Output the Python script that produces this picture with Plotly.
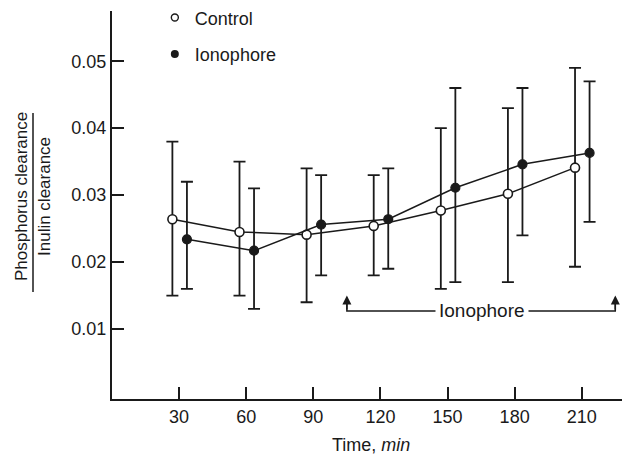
import plotly.graph_objects as go

times = [30, 60, 90, 120, 150, 180, 210]

control_mean = [0.0264, 0.0245, 0.0241, 0.0254, 0.0277, 0.0302, 0.0341]
control_hi = [0.038, 0.035, 0.034, 0.033, 0.040, 0.043, 0.049]
control_lo = [0.015, 0.015, 0.014, 0.018, 0.016, 0.017, 0.0193]

iono_mean = [0.0234, 0.0217, 0.0256, 0.0264, 0.0311, 0.0346, 0.0363]
iono_hi = [0.032, 0.031, 0.033, 0.034, 0.046, 0.046, 0.047]
iono_lo = [0.016, 0.013, 0.018, 0.019, 0.017, 0.024, 0.026]

y_ticks = [0.01, 0.02, 0.03, 0.04, 0.05]
y_tick_text = ["0.01", "0.02", "0.03", "0.04", "0.05"]

FONT = "Liberation Sans, Arial, Helvetica, sans-serif"
BLACK = "#1a1a1a"

ctrl_x = [t - 3 for t in times]
iono_x = [t + 3.5 for t in times]

def err(mean, hi, lo):
    return dict(type="data", symmetric=False,
                array=[h - m for h, m in zip(hi, mean)],
                arrayminus=[m - l for m, l in zip(mean, lo)],
                color=BLACK, thickness=1.8, width=6)

fig = go.Figure()
fig.add_trace(go.Scatter(
    x=ctrl_x, y=control_mean, mode="lines+markers", showlegend=False,
    line=dict(color=BLACK, width=1.5),
    marker=dict(symbol="circle", size=9, color="white", line=dict(color=BLACK, width=1.6)),
    error_y=err(control_mean, control_hi, control_lo)))
fig.add_trace(go.Scatter(
    x=iono_x, y=iono_mean, mode="lines+markers", showlegend=False,
    line=dict(color=BLACK, width=1.5),
    marker=dict(symbol="circle", size=9, color=BLACK, line=dict(color=BLACK, width=1.2)),
    error_y=err(iono_mean, iono_hi, iono_lo)))

# legend entries
fig.add_trace(go.Scatter(x=[None], y=[None], mode="markers", name="Control", legendgroup="c",
                         marker=dict(symbol="circle", size=7, color="white", line=dict(color=BLACK, width=1.4))))
fig.add_trace(go.Scatter(x=[None], y=[None], mode="markers", name="Ionophore", legendgroup="i",
                         marker=dict(symbol="circle", size=8, color=BLACK)))

# Ionophore period bracket
x0, x1, yb, ytip = 105, 225, 0.0127, 0.0150
fig.add_shape(type="path", xref="x", yref="y",
              path=f"M {x0},{ytip-0.0003} L {x0},{yb} L {x1},{yb} L {x1},{ytip-0.0003}",
              line=dict(color=BLACK, width=1.5))
for xv in (x0, x1):
    fig.add_annotation(x=xv, y=ytip, ax=xv, ay=yb, xref="x", yref="y", axref="x", ayref="y",
                       text="", showarrow=True, arrowhead=2, arrowsize=1.2, arrowwidth=1.5,
                       arrowcolor=BLACK)
fig.add_annotation(x=165.5, y=yb, xref="x", yref="y", text="Ionophore", showarrow=False,
                   bgcolor="white", font=dict(family=FONT, size=19, color=BLACK),
                   borderpad=3)

# y-axis title as fraction
title_y = (399 - 197) / 388
fig.add_annotation(text="Phosphorus clearance", textangle=-90, showarrow=False,
                   xref="paper", yref="paper", x=(22 - 112) / 510, y=title_y,
                   xanchor="center", yanchor="middle",
                   font=dict(family=FONT, size=17, color=BLACK))
fig.add_annotation(text="Inulin clearance", textangle=-90, showarrow=False,
                   xref="paper", yref="paper", x=(45 - 112) / 510, y=title_y,
                   xanchor="center", yanchor="middle",
                   font=dict(family=FONT, size=17, color=BLACK))
fig.add_shape(type="line", xref="paper", yref="paper",
              x0=(33 - 112) / 510, x1=(33 - 112) / 510,
              y0=(399 - 292) / 388, y1=(399 - 113) / 388,
              line=dict(color=BLACK, width=1.5))

# x-axis title
fig.add_annotation(text="Time, <i>min</i>", showarrow=False,
                   xref="paper", yref="paper", x=(371 - 112) / 510, y=(399 - 445) / 388,
                   xanchor="center", yanchor="middle",
                   font=dict(family=FONT, size=18, color=BLACK))

fig.update_layout(
    width=627, height=454,
    margin=dict(l=112, r=5, t=11, b=55, autoexpand=False),
    paper_bgcolor="white", plot_bgcolor="white",
    font=dict(family=FONT, size=18, color=BLACK),
    legend=dict(x=0.084, y=1.03, xanchor="left", yanchor="top", bgcolor="rgba(0,0,0,0)",
                tracegroupgap=10, itemwidth=30, font=dict(size=18)),
    xaxis=dict(range=[0, 228], tickvals=times, ticktext=[str(t) for t in times],
               showline=True, linecolor=BLACK, linewidth=2, ticks="inside", ticklen=12,
               tickwidth=1.6, tickcolor=BLACK, showgrid=False, zeroline=False),
    yaxis=dict(range=[-0.00045, 0.0575], tickvals=y_ticks, ticktext=y_tick_text,
               showline=True, linecolor=BLACK, linewidth=2, ticks="inside", ticklen=12,
               tickwidth=1.6, tickcolor=BLACK, showgrid=False, zeroline=False),
)

fig.write_html("out.html")
